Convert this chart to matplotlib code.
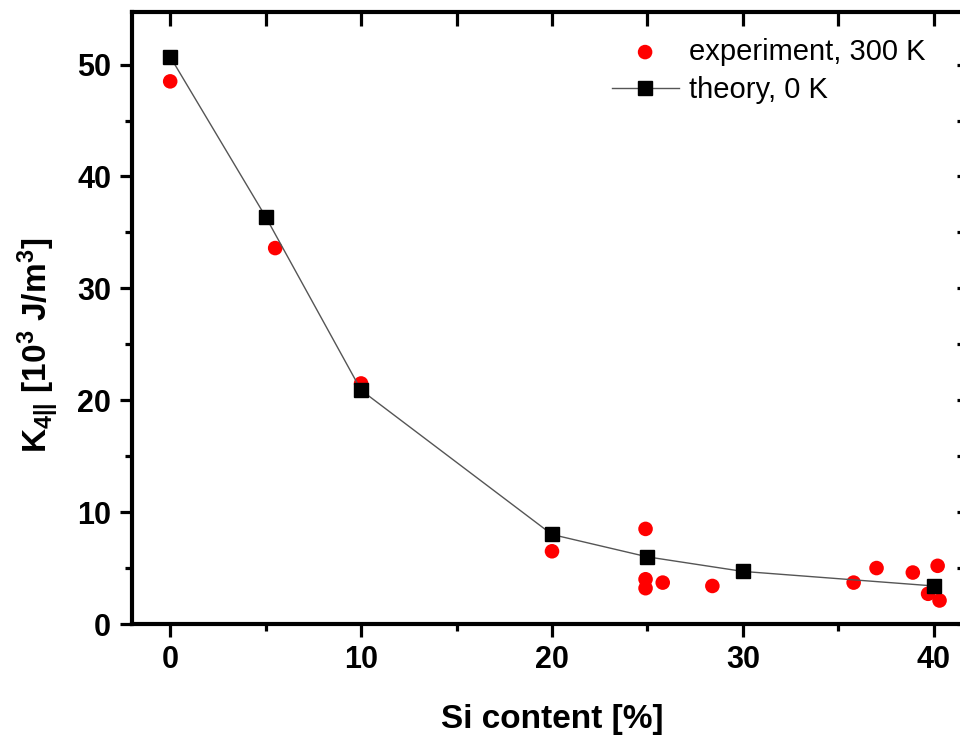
import numpy as np
import matplotlib
matplotlib.use('Agg')
import matplotlib.pyplot as plt
from matplotlib.ticker import MultipleLocator

# --- data ---
theory_si = [0, 5, 10, 20, 25, 30, 40]
theory_k4 = [50.7, 36.4, 20.9, 8.0, 6.0, 4.7, 3.4]

exp_si = [0, 5.5, 10, 20, 24.9, 24.9, 24.9, 25.8, 28.4, 35.8, 37.0, 38.9, 40.2, 39.7, 40.3]
exp_k4 = [48.5, 33.6, 21.5, 6.5, 8.5, 4.0, 3.2, 3.7, 3.4, 3.7, 5.0, 4.6, 5.2, 2.7, 2.1]

plt.rcParams['font.family'] = 'Liberation Sans'
plt.rcParams['mathtext.fontset'] = 'custom'
plt.rcParams['mathtext.bf'] = 'Liberation Sans:bold'
plt.rcParams['mathtext.rm'] = 'Liberation Sans:bold'
plt.rcParams['mathtext.default'] = 'bf'

fig = plt.figure(figsize=(9.6, 7.38), dpi=100)
# right spine sits just outside the picture, like the cropped original
ax = fig.add_axes([132 / 960, 114 / 738, 840 / 960, 612 / 738])

ax.scatter(exp_si, exp_k4, s=110, color='#ff0000', edgecolors='none',
           zorder=2, label='experiment, 300 K')
ax.plot(theory_si, theory_k4, color='#555555', lw=1.0, marker='s',
        ms=10, mfc='black', mec='black', zorder=3, label='theory, 0 K')

ax.set_xlim(-2, 42)
ax.set_ylim(0, 54.7)

ax.xaxis.set_major_locator(MultipleLocator(10))
ax.xaxis.set_minor_locator(MultipleLocator(5))
ax.yaxis.set_major_locator(MultipleLocator(10))
ax.yaxis.set_minor_locator(MultipleLocator(5))

for s in ax.spines.values():
    s.set_linewidth(3)

ax.tick_params(which='major', direction='out', length=9, width=2.3,
               labelsize=22, pad=6)
ax.tick_params(which='minor', direction='out', length=5, width=2.3)
ax.tick_params(which='both', top=True, right=True)
for lbl in ax.get_xticklabels() + ax.get_yticklabels():
    lbl.set_fontweight('bold')

# mirrored ticks on top/right point inward
for t in ax.xaxis.get_major_ticks() + ax.xaxis.get_minor_ticks():
    t.tick2line.set_marker(3)
    t.tick2line.set_markersize(10)
for t in ax.yaxis.get_major_ticks() + ax.yaxis.get_minor_ticks():
    t.tick2line.set_marker(0)
    t.tick2line.set_markersize(11)

ax.set_xlabel('Si content [%]', fontsize=24, fontweight='bold', labelpad=21)
ax.set_ylabel(r'K$_{4||}$ [10$^3$ J/m$^3$]', fontsize=24, fontweight='bold')
ax.yaxis.set_label_coords(-0.085, 0.456)

ax.legend(loc='upper left', bbox_to_anchor=(0.557, 0.977), frameon=False,
          fontsize=21, handlelength=2.3, handletextpad=0.34, labelspacing=0.35,
          borderaxespad=0)

fig.savefig('out.png', dpi=100)
